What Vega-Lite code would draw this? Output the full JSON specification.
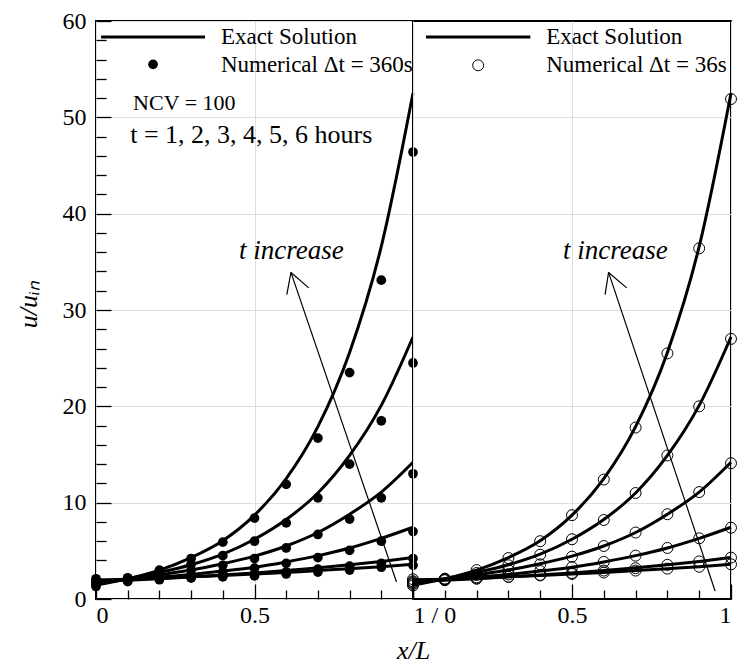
{
  "$schema": "https://vega.github.io/schema/vega-lite/v6.json",
  "background": "white",
  "padding": {"left": 14, "top": 8, "right": 5, "bottom": 0},
  "spacing": 0,
  "bounds": "flush",
  "config": {
    "font": "Liberation Serif",
    "view": {"stroke": "black", "strokeWidth": 2},
    "axis": {
      "labelFont": "Liberation Serif",
      "labelFontSize": 24,
      "labelColor": "black",
      "titleFont": "Liberation Serif",
      "titleColor": "black",
      "titleFontWeight": "normal",
      "ticks": true,
      "tickColor": "black",
      "tickWidth": 1.3,
      "gridColor": "#dddddd",
      "gridWidth": 1,
      "domain": false
    }
  },
  "datasets": {
    "exact": [
      {"x": 0, "t1": 2.0, "t2": 1.85, "t3": 1.75, "t4": 1.65, "t5": 1.55, "t6": 1.45},
      {"x": 0.1, "t1": 2.05, "t2": 1.95, "t3": 2.0, "t4": 2.05, "t5": 2.1, "t6": 2.1},
      {"x": 0.2, "t1": 2.15, "t2": 2.1, "t3": 2.25, "t4": 2.5, "t5": 2.75, "t6": 3.0},
      {"x": 0.3, "t1": 2.3, "t2": 2.3, "t3": 2.55, "t4": 3.0, "t5": 3.55, "t6": 4.3},
      {"x": 0.4, "t1": 2.45, "t2": 2.5, "t3": 2.9, "t4": 3.65, "t5": 4.65, "t6": 6.05},
      {"x": 0.5, "t1": 2.6, "t2": 2.7, "t3": 3.3, "t4": 4.45, "t5": 6.2, "t6": 8.7},
      {"x": 0.6, "t1": 2.75, "t2": 2.95, "t3": 3.85, "t4": 5.5, "t5": 8.25, "t6": 12.5},
      {"x": 0.7, "t1": 2.95, "t2": 3.25, "t3": 4.5, "t4": 6.9, "t5": 11.0, "t6": 17.9},
      {"x": 0.8, "t1": 3.15, "t2": 3.55, "t3": 5.3, "t4": 8.8, "t5": 14.9, "t6": 25.6},
      {"x": 0.9, "t1": 3.35, "t2": 3.9, "t3": 6.3, "t4": 11.1, "t5": 20.1, "t6": 36.6},
      {"x": 1.0, "t1": 3.6, "t2": 4.3, "t3": 7.45, "t4": 14.2, "t5": 27.2, "t6": 52.5}
    ],
    "num360": [
      {"x": 0, "t1": 2.1, "t2": 1.9, "t3": 1.8, "t4": 1.6, "t5": 1.5, "t6": 1.3},
      {"x": 0.1, "t1": 2.0, "t2": 1.8, "t3": 1.9, "t4": 2.0, "t5": 2.1, "t6": 2.2},
      {"x": 0.2, "t1": 2.1, "t2": 2.0, "t3": 2.2, "t4": 2.5, "t5": 2.8, "t6": 3.0},
      {"x": 0.3, "t1": 2.2, "t2": 2.2, "t3": 2.5, "t4": 3.0, "t5": 3.6, "t6": 4.2},
      {"x": 0.4, "t1": 2.3, "t2": 2.4, "t3": 2.8, "t4": 3.5, "t5": 4.5, "t6": 5.9},
      {"x": 0.5, "t1": 2.4, "t2": 2.6, "t3": 3.2, "t4": 4.2, "t5": 6.0, "t6": 8.4},
      {"x": 0.6, "t1": 2.6, "t2": 2.8, "t3": 3.7, "t4": 5.3, "t5": 7.9, "t6": 11.9},
      {"x": 0.7, "t1": 2.8, "t2": 3.1, "t3": 4.3, "t4": 6.7, "t5": 10.5, "t6": 16.7},
      {"x": 0.8, "t1": 3.0, "t2": 3.4, "t3": 5.05, "t4": 8.3, "t5": 14.0, "t6": 23.5},
      {"x": 0.9, "t1": 3.3, "t2": 3.7, "t3": 6.0, "t4": 10.5, "t5": 18.5, "t6": 33.1},
      {"x": 1.0, "t1": 3.5, "t2": 4.2, "t3": 7.0, "t4": 13.0, "t5": 24.5, "t6": 46.4}
    ],
    "num36": [
      {"x": 0, "t1": 2.05, "t2": 1.85, "t3": 1.75, "t4": 1.65, "t5": 1.55, "t6": 1.4},
      {"x": 0.1, "t1": 2.05, "t2": 1.95, "t3": 2.0, "t4": 2.0, "t5": 2.1, "t6": 2.1},
      {"x": 0.2, "t1": 2.15, "t2": 2.1, "t3": 2.25, "t4": 2.5, "t5": 2.7, "t6": 3.0},
      {"x": 0.3, "t1": 2.3, "t2": 2.3, "t3": 2.55, "t4": 3.0, "t5": 3.5, "t6": 4.25},
      {"x": 0.4, "t1": 2.45, "t2": 2.5, "t3": 2.9, "t4": 3.6, "t5": 4.6, "t6": 6.0},
      {"x": 0.5, "t1": 2.6, "t2": 2.7, "t3": 3.3, "t4": 4.4, "t5": 6.2, "t6": 8.7},
      {"x": 0.6, "t1": 2.75, "t2": 2.95, "t3": 3.85, "t4": 5.5, "t5": 8.2, "t6": 12.4},
      {"x": 0.7, "t1": 2.95, "t2": 3.2, "t3": 4.5, "t4": 6.9, "t5": 11.0, "t6": 17.8},
      {"x": 0.8, "t1": 3.15, "t2": 3.55, "t3": 5.3, "t4": 8.8, "t5": 14.9, "t6": 25.5},
      {"x": 0.9, "t1": 3.35, "t2": 3.9, "t3": 6.3, "t4": 11.1, "t5": 20.0, "t6": 36.4},
      {"x": 1.0, "t1": 3.6, "t2": 4.3, "t3": 7.4, "t4": 14.1, "t5": 27.0, "t6": 51.9}
    ],
    "arrowL": [
      {"x": 0.948, "y": 1.76, "x2": 0.615, "y2": 33.9},
      {"x": 0.615, "y": 33.9, "x2": 0.602, "y2": 31.6},
      {"x": 0.615, "y": 33.9, "x2": 0.671, "y2": 32.3}
    ],
    "arrowR": [
      {"x": 0.95, "y": 0.83, "x2": 0.615, "y2": 33.9},
      {"x": 0.615, "y": 33.9, "x2": 0.604, "y2": 31.6},
      {"x": 0.615, "y": 33.9, "x2": 0.672, "y2": 32.3}
    ],
    "legLineL": [{"x": 0.016, "x2": 0.344, "y": 58.34}],
    "legLineR": [{"x": 0.041, "x2": 0.369, "y": 58.34}],
    "legDotL": [{"x": 0.18, "y": 55.5}],
    "legDotR": [{"x": 0.205, "y": 55.4}],
    "legTextL": [
      {"x": 0.394, "y": 57.58, "label": "Exact Solution"},
      {"x": 0.394, "y": 54.7, "label": "Numerical Δt = 360s"}
    ],
    "legTextR": [
      {"x": 0.419, "y": 57.58, "label": "Exact Solution"},
      {"x": 0.419, "y": 54.7, "label": "Numerical Δt = 36s"}
    ],
    "ncv": [{"x": 0.117, "y": 50.8, "label": "NCV = 100"}],
    "hours": [{"x": 0.108, "y": 47.3, "label": "t = 1, 2, 3, 4, 5, 6 hours"}],
    "incL": [{"x": 0.451, "y": 35.27, "label": "t increase"}],
    "incR": [{"x": 0.472, "y": 35.27, "label": "t increase"}]
  },
  "hconcat": [
    {
      "width": 317,
      "height": 578,
      "layer": [
        {
          "data": {"name": "exact"},
          "transform": [{"fold": ["t1", "t2", "t3", "t4", "t5", "t6"], "as": ["t", "u"]}],
          "mark": {"type": "line", "color": "black", "strokeWidth": 3, "interpolate": "monotone"},
          "encoding": {
            "x": {"field": "x", "type": "quantitative", "scale": {"domain": [0, 1], "nice": false},
              "axis": {"orient": "bottom", "values": [0, 0.5, 1], "offset": -15, "tickSize": 15, "labelPadding": 4, "labelExpr": "datum.value == 0 ? '0' : (datum.value == 0.5 ? '0.5' : '')", "grid": true, "title": null}},
            "y": {"field": "u", "type": "quantitative", "scale": {"domain": [0, 60], "nice": false},
              "axis": {"orient": "left", "values": [0, 10, 20, 30, 40, 50, 60], "offset": -15, "tickSize": 15, "labelPadding": 10, "grid": true,
                "title": "u/uᵢₙ", "titleFontStyle": "italic", "titleFontSize": 26, "titleAngle": 270, "titleBaseline": "alphabetic", "titleAlign": "center", "titleX": -75, "titleY": 283}},
            "detail": {"field": "t"}
          }
        },
        {
          "data": {"name": "num360"},
          "transform": [{"fold": ["t1", "t2", "t3", "t4", "t5", "t6"], "as": ["t", "u"]}],
          "mark": {"type": "point", "filled": true, "color": "black", "opacity": 1, "size": 95},
          "encoding": {
            "x": {"field": "x", "type": "quantitative",
              "axis": {"orient": "bottom", "values": [0.1, 0.2, 0.3, 0.4, 0.6, 0.7, 0.8, 0.9], "offset": -9, "tickSize": 9, "labels": false, "grid": false, "title": null}},
            "y": {"field": "u", "type": "quantitative",
              "axis": {"orient": "left", "values": [2, 4, 6, 8, 12, 14, 16, 18, 22, 24, 26, 28, 32, 34, 36, 38, 42, 44, 46, 48, 52, 54, 56, 58], "offset": -10, "tickSize": 10, "labels": false, "grid": false, "title": null}},
            "detail": {"field": "t"}
          }
        },
        {
          "data": {"name": "arrowL"},
          "mark": {"type": "rule", "color": "black", "strokeWidth": 1.2},
          "encoding": {
            "x": {"field": "x", "type": "quantitative", "axis": null},
            "y": {"field": "y", "type": "quantitative", "axis": null},
            "x2": {"field": "x2"},
            "y2": {"field": "y2"}
          }
        },
        {
          "data": {"name": "legLineL"},
          "mark": {"type": "rule", "color": "black", "strokeWidth": 3},
          "encoding": {
            "x": {"field": "x", "type": "quantitative", "axis": null},
            "x2": {"field": "x2"},
            "y": {"field": "y", "type": "quantitative", "axis": null}
          }
        },
        {
          "data": {"name": "legDotL"},
          "mark": {"type": "point", "filled": true, "color": "black", "opacity": 1, "size": 95},
          "encoding": {
            "x": {"field": "x", "type": "quantitative", "axis": null},
            "y": {"field": "y", "type": "quantitative", "axis": null}
          }
        },
        {
          "data": {"name": "legTextL"},
          "mark": {"type": "text", "align": "left", "baseline": "alphabetic", "fontSize": 23, "font": "Liberation Serif", "color": "black"},
          "encoding": {
            "x": {"field": "x", "type": "quantitative", "axis": null},
            "y": {"field": "y", "type": "quantitative", "axis": null},
            "text": {"field": "label"}
          }
        },
        {
          "data": {"name": "ncv"},
          "mark": {"type": "text", "align": "left", "baseline": "alphabetic", "fontSize": 22, "font": "Liberation Serif", "color": "black"},
          "encoding": {
            "x": {"field": "x", "type": "quantitative", "axis": null},
            "y": {"field": "y", "type": "quantitative", "axis": null},
            "text": {"field": "label"}
          }
        },
        {
          "data": {"name": "hours"},
          "mark": {"type": "text", "align": "left", "baseline": "alphabetic", "fontSize": 26, "font": "Liberation Serif", "color": "black"},
          "encoding": {
            "x": {"field": "x", "type": "quantitative", "axis": null},
            "y": {"field": "y", "type": "quantitative", "axis": null},
            "text": {"field": "label"}
          }
        },
        {
          "data": {"name": "incL"},
          "mark": {"type": "text", "align": "left", "baseline": "alphabetic", "fontSize": 27, "fontStyle": "italic", "font": "Liberation Serif", "color": "black"},
          "encoding": {
            "x": {"field": "x", "type": "quantitative", "axis": null},
            "y": {"field": "y", "type": "quantitative", "axis": null},
            "text": {"field": "label"}
          }
        }
      ],
      "resolve": {"axis": {"x": "independent", "y": "independent"}}
    },
    {
      "width": 318,
      "height": 578,
      "layer": [
        {
          "data": {"name": "exact"},
          "transform": [{"fold": ["t1", "t2", "t3", "t4", "t5", "t6"], "as": ["t", "u"]}],
          "mark": {"type": "line", "color": "black", "strokeWidth": 3, "interpolate": "monotone"},
          "encoding": {
            "x": {"field": "x", "type": "quantitative", "scale": {"domain": [0, 1], "nice": false},
              "axis": {"orient": "bottom", "values": [0, 0.5, 1], "offset": -15, "tickSize": 15, "labelPadding": 4, "labelExpr": "datum.value == 0 ? '1 / 0' : (datum.value == 0.5 ? '0.5' : '1')", "grid": true,
                "title": "x/L", "titleFontStyle": "italic", "titleFontSize": 26, "titleX": 0, "titleY": 74, "titleAlign": "center", "titleBaseline": "alphabetic"}},
            "y": {"field": "u", "type": "quantitative", "scale": {"domain": [0, 60], "nice": false},
              "axis": {"orient": "left", "values": [10, 20, 30, 40, 50], "ticks": false, "labels": false, "grid": true, "title": null}},
            "detail": {"field": "t"}
          }
        },
        {
          "data": {"name": "num36"},
          "transform": [{"fold": ["t1", "t2", "t3", "t4", "t5", "t6"], "as": ["t", "u"]}],
          "mark": {"type": "point", "filled": false, "color": "black", "opacity": 1, "size": 120, "strokeWidth": 1},
          "encoding": {
            "x": {"field": "x", "type": "quantitative",
              "axis": {"orient": "bottom", "values": [0.1, 0.2, 0.3, 0.4, 0.6, 0.7, 0.8, 0.9], "offset": -9, "tickSize": 9, "labels": false, "grid": false, "title": null}},
            "y": {"field": "u", "type": "quantitative", "axis": null},
            "detail": {"field": "t"}
          }
        },
        {
          "data": {"name": "arrowR"},
          "mark": {"type": "rule", "color": "black", "strokeWidth": 1.2},
          "encoding": {
            "x": {"field": "x", "type": "quantitative", "axis": null},
            "y": {"field": "y", "type": "quantitative", "axis": null},
            "x2": {"field": "x2"},
            "y2": {"field": "y2"}
          }
        },
        {
          "data": {"name": "legLineR"},
          "mark": {"type": "rule", "color": "black", "strokeWidth": 3},
          "encoding": {
            "x": {"field": "x", "type": "quantitative", "axis": null},
            "x2": {"field": "x2"},
            "y": {"field": "y", "type": "quantitative", "axis": null}
          }
        },
        {
          "data": {"name": "legDotR"},
          "mark": {"type": "point", "filled": false, "color": "black", "opacity": 1, "size": 120, "strokeWidth": 1},
          "encoding": {
            "x": {"field": "x", "type": "quantitative", "axis": null},
            "y": {"field": "y", "type": "quantitative", "axis": null}
          }
        },
        {
          "data": {"name": "legTextR"},
          "mark": {"type": "text", "align": "left", "baseline": "alphabetic", "fontSize": 23, "font": "Liberation Serif", "color": "black"},
          "encoding": {
            "x": {"field": "x", "type": "quantitative", "axis": null},
            "y": {"field": "y", "type": "quantitative", "axis": null},
            "text": {"field": "label"}
          }
        },
        {
          "data": {"name": "incR"},
          "mark": {"type": "text", "align": "left", "baseline": "alphabetic", "fontSize": 27, "fontStyle": "italic", "font": "Liberation Serif", "color": "black"},
          "encoding": {
            "x": {"field": "x", "type": "quantitative", "axis": null},
            "y": {"field": "y", "type": "quantitative", "axis": null},
            "text": {"field": "label"}
          }
        }
      ],
      "resolve": {"axis": {"x": "independent", "y": "independent"}}
    }
  ]
}
